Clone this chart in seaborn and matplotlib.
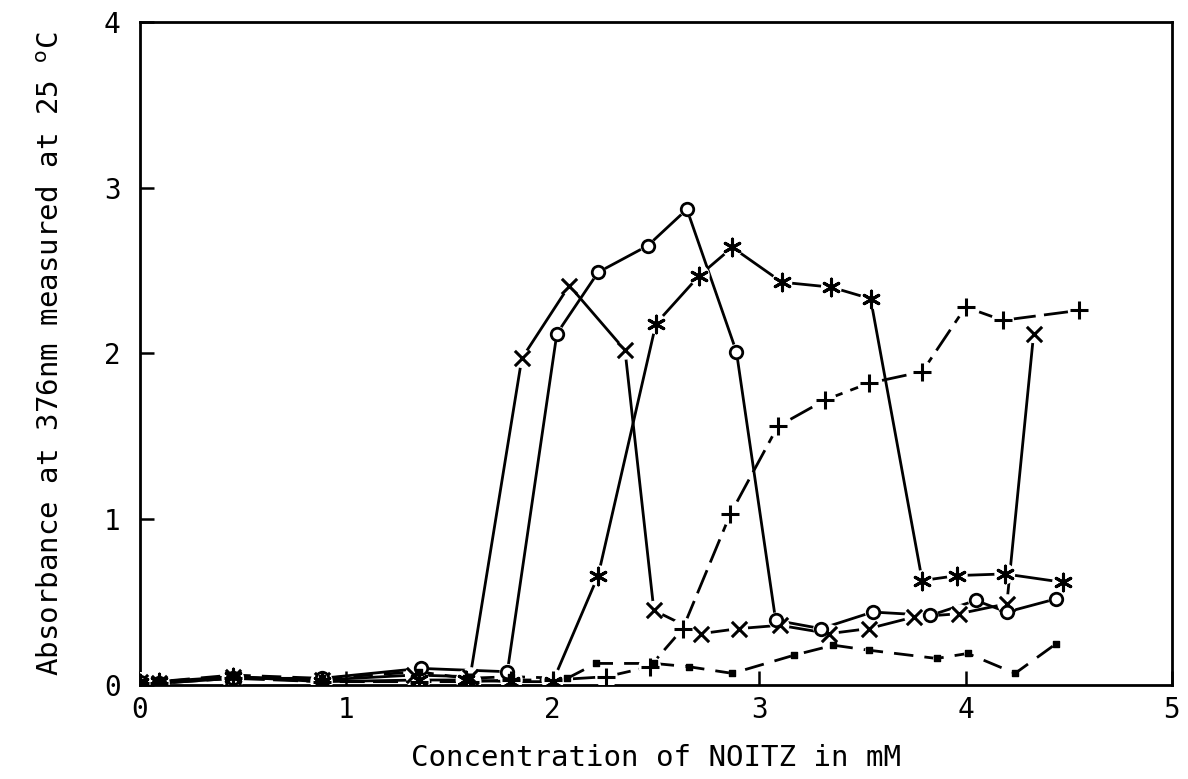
import matplotlib
matplotlib.use("Agg")
import matplotlib.pyplot as plt
import seaborn as sns
import pandas as pd

# ---- data ----
x_cross = [0, 0.09, 0.45, 0.88, 1.33, 1.6, 1.85, 2.08, 2.35, 2.49, 2.72, 2.9, 3.1, 3.34, 3.53, 3.75, 3.97, 4.2, 4.33]
y_cross = [0.02, 0.01, 0.05, 0.03, 0.06, 0.05, 1.97, 2.41, 2.02, 0.45, 0.31, 0.34, 0.36, 0.31, 0.34, 0.41, 0.43, 0.49, 2.12]

x_circle = [0, 0.09, 0.45, 0.88, 1.36, 1.78, 2.02, 2.22, 2.46, 2.65, 2.89, 3.08, 3.3, 3.55, 3.83, 4.05, 4.2, 4.44]
y_circle = [0.02, 0.01, 0.04, 0.04, 0.10, 0.08, 2.12, 2.49, 2.65, 2.87, 2.01, 0.39, 0.34, 0.44, 0.42, 0.51, 0.44, 0.52]

x_star = [0, 0.09, 0.45, 0.88, 1.35, 1.58, 1.8, 2.0, 2.22, 2.5, 2.71, 2.87, 3.11, 3.35, 3.54, 3.79, 3.96, 4.19, 4.47]
y_star = [0.01, 0.02, 0.05, 0.02, 0.03, 0.03, 0.02, 0.02, 0.66, 2.18, 2.47, 2.64, 2.43, 2.40, 2.33, 0.63, 0.66, 0.67, 0.62]

x_plus = [0, 0.09, 0.45, 0.88, 1.35, 1.6, 1.8, 2.0, 2.26, 2.47, 2.63, 2.86, 3.09, 3.32, 3.53, 3.79, 4.0, 4.18, 4.55]
y_plus = [0.01, 0.01, 0.04, 0.02, 0.02, 0.02, 0.03, 0.03, 0.05, 0.11, 0.34, 1.03, 1.56, 1.72, 1.82, 1.89, 2.28, 2.20, 2.26]

x_dot = [0, 0.09, 0.45, 0.88, 1.35, 1.58, 1.8, 2.07, 2.21, 2.49, 2.66, 2.87, 3.17, 3.36, 3.53, 3.86, 4.01, 4.24, 4.44]
y_dot = [0.02, 0.02, 0.06, 0.04, 0.08, 0.04, 0.05, 0.04, 0.13, 0.13, 0.11, 0.07, 0.18, 0.24, 0.21, 0.16, 0.19, 0.07, 0.25]

x_ticks = [0, 1, 2, 3, 4, 5]
y_ticks = [0, 1, 2, 3, 4]
x_label = "Concentration of NOITZ in mM"
y_label = "Absorbance at 376nm measured at 25 $^{\\mathrm{o}}$C"

sns.set_theme(style="white")
plt.rcParams['font.family'] = ['DejaVu Sans Mono', 'DejaVu Sans']
plt.rcParams['mathtext.fontset'] = 'dejavusans'
plt.rcParams['text.color'] = 'black'
plt.rcParams['axes.labelcolor'] = 'black'
plt.rcParams['xtick.color'] = 'black'
plt.rcParams['ytick.color'] = 'black'

fig = plt.figure(figsize=(11.88, 7.79), dpi=100)
ax = fig.add_axes([0.1178, 0.1207, 0.8687, 0.8511])

asterisk = (6, 2, 0)
series = [
    (x_cross, y_cross, 'x', 11, None),
    (x_circle, y_circle, 'o', 9, None),
    (x_star, y_star, asterisk, 12, None),
    (x_plus, y_plus, '+', 13, (9, 3)),
    (x_dot, y_dot, 's', 4, (7, 4)),
]

for xs, ys, mk, ms, dash in series:
    df = pd.DataFrame({"x": xs, "y": ys})
    sns.lineplot(data=df, x="x", y="y", ax=ax, sort=False, estimator=None,
                 color="black", linewidth=2.0, zorder=2)
    l = ax.lines[-1]
    if dash is not None:
        l.set_dashes(dash)
    # white gap around marker (plotter style)
    sns.scatterplot(data=df, x="x", y="y", ax=ax, marker='o', s=(ms * 1.25) ** 2,
                    color="white", edgecolor="none", linewidth=0, zorder=3)
    if mk == 'o':
        sns.scatterplot(data=df, x="x", y="y", ax=ax, marker='o', s=ms ** 2,
                        facecolor="white", edgecolor="black", linewidth=2.0, zorder=4)
    elif mk == 's':
        sns.scatterplot(data=df, x="x", y="y", ax=ax, marker='s', s=ms ** 2,
                        color="black", edgecolor="black", linewidth=1, zorder=4)
    else:
        sns.scatterplot(data=df, x="x", y="y", ax=ax, marker=mk, s=ms ** 2,
                        color="black", edgecolor="black", linewidth=2.2, zorder=4)

ax.set_xlim(0, 5)
ax.set_ylim(0, 4)
ax.set_xticks(x_ticks)
ax.set_yticks(y_ticks)
ax.set_xticklabels([str(t) for t in x_ticks], fontsize=20)
ax.set_yticklabels([str(t) for t in y_ticks], fontsize=20)
ax.tick_params(axis='both', direction='in', length=10, width=1.8, color='black',
               labelcolor='black', bottom=True, left=True, pad=8)
ax.tick_params(axis='y', pad=14)
for s in ax.spines.values():
    s.set_color('black')
    s.set_linewidth(2.0)

ax.set_xlabel(x_label, fontsize=21, labelpad=14, color='black')
ax.set_ylabel(y_label, fontsize=21, labelpad=28, color='black')
ax.grid(False)

fig.savefig("out.png", dpi=100, facecolor="white")
